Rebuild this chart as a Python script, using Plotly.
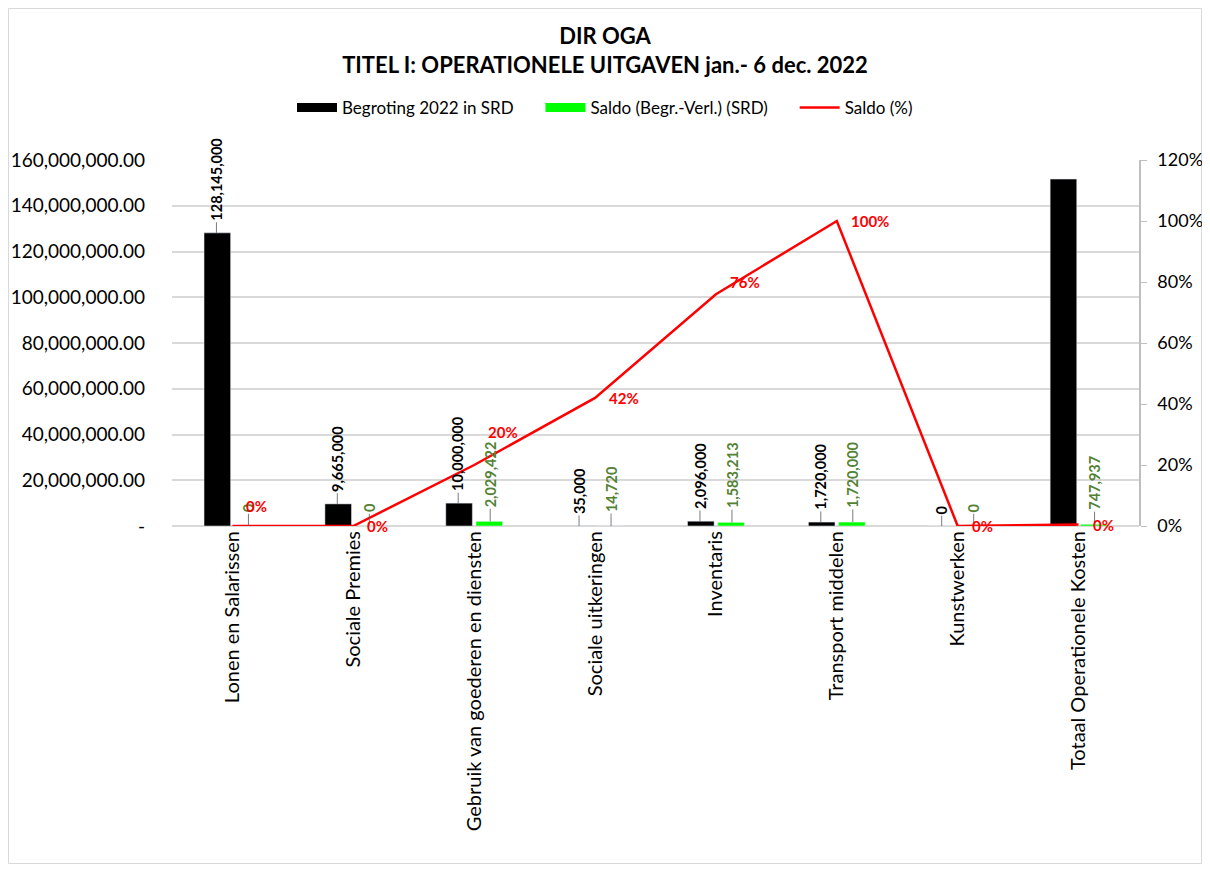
import plotly.graph_objects as go

categories = [
    "Lonen en Salarissen",
    "Sociale Premies",
    "Gebruik van goederen en diensten",
    "Sociale uitkeringen",
    "Inventaris",
    "Transport middelen",
    "Kunstwerken",
    "Totaal Operationele Kosten",
]
begroting = [128145000, 9665000, 10000000, 35000, 2096000, 1720000, 0, 151661000]
saldo = [0, 0, 2029422, 14720, 1583213, 1720000, 0, 747937]
saldo_pct = [0, 0, 0.20, 0.42, 0.76, 1.00, 0, 0.0049]

y_tickvals = [0, 20e6, 40e6, 60e6, 80e6, 100e6, 120e6, 140e6, 160e6]
y_ticktext = ["-"] + [f"{v:,.2f}" for v in y_tickvals[1:]]
y2_tickvals = [0, 0.2, 0.4, 0.6, 0.8, 1.0, 1.2]

# a few % labels were nudged upwards in the original (pixels)
pct_label_lift = [20, 0, 33, 0, 12, 0, 0, 0]

FONT = "Lato"
BLACK = "#000000"
GREEN = "#00FF00"
GREEN_TXT = "#548235"
RED = "#FF0000"
GRID = "#D9D9D9"

# the page body adds an 8px margin all round, so keep the figure inside the window
W, H = 1194, 856
ML, MR, MT, MB = 164, 63, 152, 338
LBL = 14.5
GAP = "\u00a0" * 5


def label_len(s, size):
    return sum(0.58 if c.isdigit() else 0.26 for c in s) * size


fig = go.Figure()

fig.add_trace(go.Bar(
    x=categories, y=begroting, name="Begroting 2022 in SRD",
    marker=dict(color=BLACK), showlegend=False,
))
fig.add_trace(go.Bar(
    x=categories, y=saldo, name="Saldo (Begr.-Verl.) (SRD)",
    marker=dict(color=GREEN), showlegend=False,
))
fig.add_trace(go.Scatter(
    x=categories, y=saldo_pct, name="Saldo (%)", yaxis="y2",
    mode="lines", line=dict(color=RED, width=2.5), showlegend=False,
))

# legend entries drawn as wide swatches like the original
for name, color, width in [("Begroting 2022 in SRD" + GAP, BLACK, 9),
                           ("Saldo (Begr.-Verl.) (SRD)" + GAP, GREEN, 9),
                           ("Saldo (%)", RED, 2.5)]:
    fig.add_trace(go.Scatter(
        x=[None], y=[None], name=name, mode="lines",
        line=dict(color=color, width=width),
    ))

# rotated value labels with leader lines (label of the total bar falls off the chart)
for i, cat in enumerate(categories[:-1]):
    txt = f"{begroting[i]:,}"
    fig.add_annotation(
        x=cat, y=begroting[i], xref="x", yref="y", text=txt, textangle=-90,
        showarrow=True, arrowhead=0, arrowwidth=0.8, arrowcolor="#595959",
        ax=0, ay=-(12 + label_len(txt, LBL) / 2), xshift=-16,
        font=dict(family=FONT, size=LBL, color=BLACK, weight="bold"),
    )
for i, cat in enumerate(categories):
    txt = f"{saldo[i]:,}"
    fig.add_annotation(
        x=cat, y=saldo[i], xref="x", yref="y", text=txt, textangle=-90,
        showarrow=True, arrowhead=0, arrowwidth=0.8, arrowcolor="#595959",
        ax=0, ay=-(14 + label_len(txt, LBL) / 2), xshift=16,
        font=dict(family=FONT, size=LBL, color=GREEN_TXT, weight="bold"),
    )
for i, cat in enumerate(categories):
    fig.add_annotation(
        x=cat, y=saldo_pct[i], xref="x", yref="y2", text=f"{saldo_pct[i]:.0%}",
        showarrow=False, xanchor="left", yanchor="middle",
        xshift=12, yshift=pct_label_lift[i],
        font=dict(family=FONT, size=15, color=RED, weight="bold"),
    )

pw, ph = W - ML - MR, H - MT - MB
fig.add_shape(
    type="rect", xref="paper", yref="paper",
    x0=(0.5 - ML) / pw, x1=(W - 0.5 - ML) / pw,
    y0=-(H - 0.5 - MT - ph) / ph, y1=(ph + MT - 0.5) / ph,
    line=dict(color="#D9D9D9", width=1), fillcolor="rgba(0,0,0,0)", layer="below",
)

fig.update_layout(
    width=W, height=H,
    title=dict(
        text="DIR OGA<br>TITEL I: OPERATIONELE UITGAVEN jan.- 6 dec. 2022",
        x=0.5, xanchor="center", y=0.958, yanchor="top",
        font=dict(family=FONT, size=22, color=BLACK, weight="bold"),
    ),
    barmode="group", bargap=0.5, bargroupgap=0.12,
    legend=dict(
        orientation="h", xref="container", x=0.5, xanchor="center",
        y=1.142, yanchor="middle",
        font=dict(family=FONT, size=17, color=BLACK),
        itemwidth=40,
    ),
    xaxis=dict(
        tickangle=-90, tickfont=dict(family=FONT, size=20, color=BLACK),
        showgrid=False, showline=False, ticks="", automargin=False,
    ),
    yaxis=dict(
        range=[0, 160e6], tickvals=y_tickvals, ticktext=y_ticktext,
        tickfont=dict(family=FONT, size=19, color=BLACK),
        showgrid=True, gridcolor=GRID, gridwidth=1.5,
        zeroline=True, zerolinecolor=GRID, zerolinewidth=1.5,
        showline=False, ticklabelstandoff=26, automargin=False,
    ),
    yaxis2=dict(
        overlaying="y", side="right", range=[0, 1.2], tickvals=y2_tickvals,
        tickformat=".0%", tickfont=dict(family=FONT, size=18, color=BLACK),
        showgrid=False, zeroline=False,
        showline=True, linecolor="#BFBFBF", linewidth=1.5,
        ticks="outside", ticklen=6, tickcolor="#BFBFBF", ticklabelstandoff=7,
        automargin=False,
    ),
    plot_bgcolor="white", paper_bgcolor="white",
    font=dict(family=FONT, size=15, color=BLACK),
    margin=dict(l=ML, r=MR, t=MT, b=MB, autoexpand=False),
)

fig.write_html("out.html")
